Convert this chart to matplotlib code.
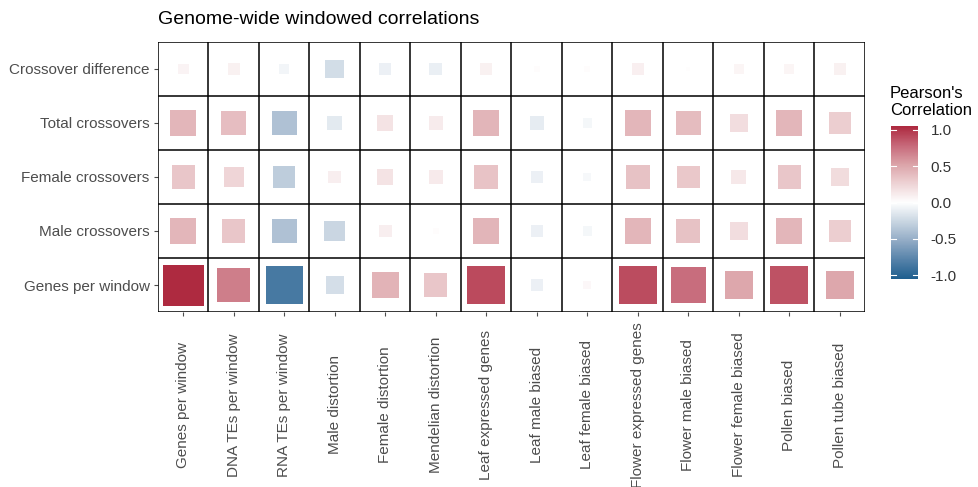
import numpy as np
import matplotlib
matplotlib.use('Agg')
import matplotlib.pyplot as plt
from matplotlib.colors import LinearSegmentedColormap, Normalize

plt.rcParams['font.family'] = ['Liberation Sans', 'DejaVu Sans']

rows = ['Crossover difference', 'Total crossovers', 'Female crossovers',
        'Male crossovers', 'Genes per window']
cols = ['Genes per window', 'DNA TEs per window', 'RNA TEs per window',
        'Male distortion', 'Female distortion', 'Mendelian distortion',
        'Leaf expressed genes', 'Leaf male biased', 'Leaf female biased',
        'Flower expressed genes', 'Flower male biased', 'Flower female biased',
        'Pollen biased', 'Pollen tube biased']

# correlations (rows top to bottom, columns left to right)
r_cross_diff = [0.07, 0.08, -0.06, -0.21, -0.09, -0.10, 0.08, 0.02, 0.02, 0.09, 0.01, 0.06, 0.06, 0.08]
r_total = [0.40, 0.36, -0.37, -0.13, 0.16, 0.11, 0.41, -0.11, -0.05, 0.40, 0.37, 0.19, 0.40, 0.28]
r_female = [0.32, 0.24, -0.30, 0.10, 0.16, 0.12, 0.33, -0.09, -0.04, 0.34, 0.31, 0.13, 0.32, 0.20]
r_male = [0.40, 0.32, -0.37, -0.25, 0.10, 0.02, 0.41, -0.09, -0.05, 0.40, 0.34, 0.19, 0.40, 0.28]
r_genes = [1.00, 0.66, -0.82, -0.20, 0.42, 0.32, 0.87, -0.09, 0.04, 0.86, 0.73, 0.48, 0.84, 0.48]

corr = np.array([r_cross_diff, r_total, r_female, r_male, r_genes])

# blue - white - red, warmer midtones like ggplot's gradient2
cmap = LinearSegmentedColormap.from_list('pc', [
    (0.0, '#1f5f8f'), (0.125, '#5783aa'), (0.25, '#93acc6'), (0.375, '#c9d6e2'),
    (0.5, '#ffffff'),
    (0.625, '#eed3d5'), (0.75, '#dca4a9'), (0.875, '#c7697a'), (1.0, '#ae2a40')])
norm = Normalize(-1, 1)

W, H = 979, 487
fig = plt.figure(figsize=(W / 100, H / 100), dpi=100)
ax = fig.add_axes([158 / W, 1 - 312 / H, 707 / W, 270 / H])

nr, nc = corr.shape
xx, yy = np.meshgrid(np.arange(nc), np.arange(nr))
yy = nr - 1 - yy  # first row on top
max_side = 41 * 0.72  # points
ax.scatter(xx.ravel(), yy.ravel(), s=(max_side ** 2) * np.abs(corr.ravel()),
           c=corr.ravel(), cmap=cmap, norm=norm, marker='s', linewidths=0)

ax.set_xlim(-0.5, nc - 0.5)
ax.set_ylim(-0.5, nr - 0.5)
for i in range(nc + 1):
    ax.axvline(i - 0.5, color='black', lw=1.1)
for j in range(nr + 1):
    ax.axhline(j - 0.5, color='black', lw=1.1)
for s in ax.spines.values():
    s.set_visible(False)

ax.set_yticks(np.arange(nr))
ax.set_yticklabels(rows[::-1], fontsize=11, color='#4d4d4d')
ax.set_xticks(np.arange(nc))
ax.set_xticklabels([])
ax.tick_params(axis='both', length=3, color='#4d4d4d', width=0.8, pad=3)
for i, lab in enumerate(cols):
    ax.text(i, -0.344, lab, transform=ax.get_xaxis_transform(), rotation=90,
            ha='center', va='center', fontsize=11, color='#4d4d4d')

fig.text(158 / W, 1 - 20 / H, 'Genome-wide windowed correlations',
         fontsize=14, ha='left', va='center', color='black')

# colour bar
cax = fig.add_axes([891 / W, 1 - 279 / H, 27 / W, 153 / H])
grad = np.linspace(-1, 1, 300).reshape(-1, 1)
cax.imshow(grad, aspect='auto', cmap=cmap, norm=norm, origin='lower',
           extent=[0, 1, -1.05, 1.05])
cax.set_xlim(0, 1)
cax.set_ylim(-1.05, 1.05)
cax.set_xticks([])
for s in cax.spines.values():
    s.set_visible(False)
ticks = [-1.0, -0.5, 0.0, 0.5, 1.0]
cax.yaxis.tick_right()
cax.set_yticks(ticks)
cax.set_yticklabels(['%.1f' % t for t in ticks], fontsize=11, color='#333333')
cax.tick_params(axis='y', length=0, pad=9)
for t in ticks:
    cax.plot([0, 0.2], [t, t], color='white', lw=0.8)
    cax.plot([0.8, 1], [t, t], color='white', lw=0.8)
fig.text(890 / W, 1 - 102 / H, "Pearson's\nCorrelation", fontsize=12,
         ha='left', va='center', color='black', linespacing=1.15)

fig.savefig('out.png', dpi=100)
